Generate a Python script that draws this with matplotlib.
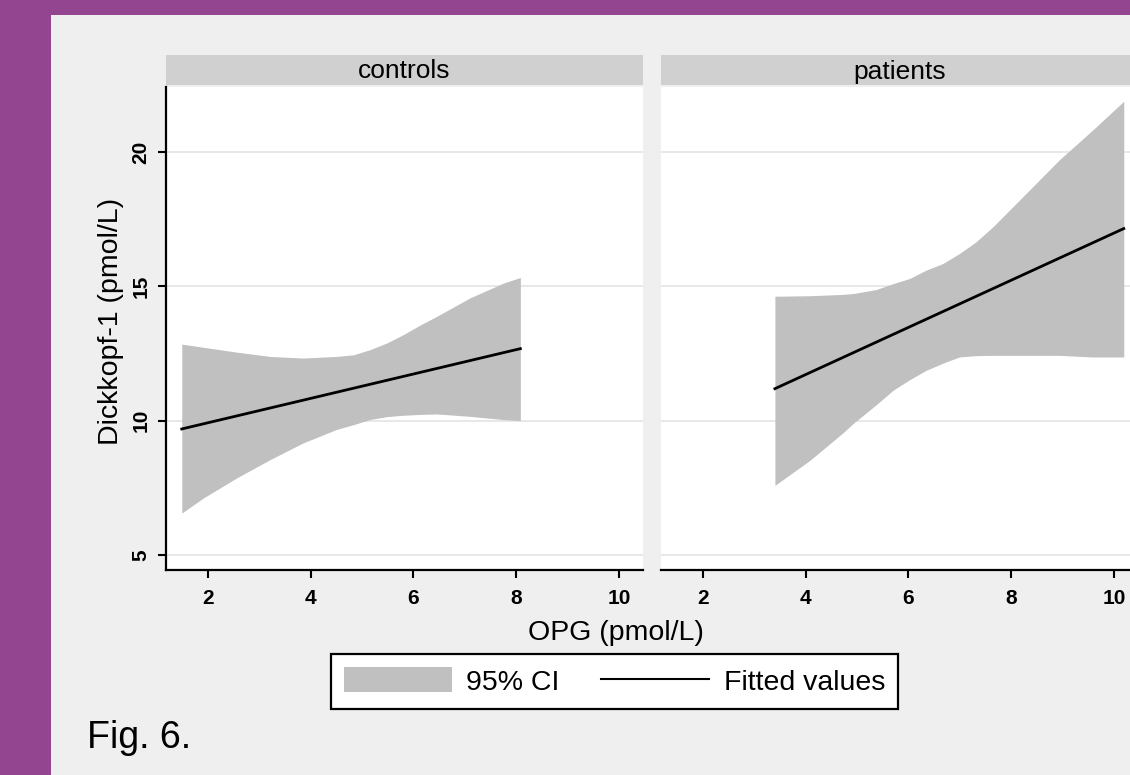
import matplotlib
matplotlib.use('Agg')
import matplotlib.pyplot as plt
from matplotlib.patches import Rectangle, Patch
from matplotlib.lines import Line2D

plt.rcParams['font.family'] = ['Liberation Sans', 'DejaVu Sans']

# ---------------- data ----------------
panels = ["controls", "patients"]

ctrl_x = [1.49, 1.91, 2.56, 3.21, 3.85, 4.50, 4.83, 5.15, 5.48, 5.80, 6.12, 6.45, 7.10, 7.75, 8.08]
ctrl_upper = [12.85, 12.73, 12.55, 12.39, 12.33, 12.39, 12.45, 12.64, 12.89, 13.20, 13.55, 13.88, 14.57, 15.12, 15.33]
ctrl_lower = [6.56, 7.12, 7.87, 8.55, 9.17, 9.67, 9.85, 10.04, 10.15, 10.20, 10.23, 10.25, 10.16, 10.04, 10.00]
ctrl_fit_x = [1.49, 8.08]
ctrl_fit_y = [9.69, 12.68]

pat_x = [3.40, 4.08, 4.72, 4.92, 5.37, 5.70, 6.02, 6.34, 6.67, 6.99, 7.31, 7.64, 8.29, 8.93, 9.58, 10.19]
pat_upper = [14.63, 14.65, 14.70, 14.73, 14.88, 15.10, 15.29, 15.60, 15.85, 16.22, 16.65, 17.21, 18.46, 19.70, 20.81, 21.89]
pat_lower = [7.59, 8.52, 9.54, 9.89, 10.59, 11.13, 11.52, 11.87, 12.14, 12.37, 12.42, 12.43, 12.43, 12.43, 12.37, 12.37]
pat_fit_x = [3.40, 10.19]
pat_fit_y = [11.19, 17.15]

x_ticks = [2, 4, 6, 8, 10]
y_ticks = [5, 10, 15, 20]

x_label = "OPG (pmol/L)"
y_label = "Dickkopf-1 (pmol/L)"
legend_labels = ["95% CI", "Fitted values"]
fig_caption = "Fig. 6."

# ---------------- styling ----------------
W, H = 1130, 775
PURPLE = '#93458f'
BG = '#efefef'
STRIP = '#d0d0d0'
CI = '#c0c0c0'
GRID = '#e6e6e6'

def fx(px):
    return px / W

def fy(py):
    return 1 - py / H

fig = plt.figure(figsize=(W / 100, H / 100), dpi=100, facecolor=PURPLE)
fig.patches.append(Rectangle((fx(51), 0), 1, fy(15), transform=fig.transFigure,
                             facecolor=BG, edgecolor='none', zorder=-10))

xlim = (1.183, 10.467)
ylim = (4.44, 22.42)

series = [
    (ctrl_x, ctrl_lower, ctrl_upper, ctrl_fit_x, ctrl_fit_y),
    (pat_x, pat_lower, pat_upper, pat_fit_x, pat_fit_y),
]
lefts = [166, 661]
pw = 477

for i, (name, s) in enumerate(zip(panels, series)):
    xs, lo, up, fxs, fys = s
    ax = fig.add_axes([fx(lefts[i]), fy(570), pw / W, 483 / H])
    ax.set_facecolor('white')
    ax.fill_between(xs, lo, up, color=CI, linewidth=0, zorder=2)
    ax.plot(fxs, fys, color='black', lw=2.0, zorder=3)
    ax.set_xlim(*xlim)
    ax.set_ylim(*ylim)
    ax.set_xticks(x_ticks)
    ax.set_yticks(y_ticks)
    ax.grid(axis='y', color=GRID, lw=1.3, zorder=1)
    ax.set_axisbelow(True)
    for sp in ['top', 'right']:
        ax.spines[sp].set_visible(False)
    ax.spines['bottom'].set_linewidth(1.6)
    ax.spines['left'].set_linewidth(1.6)
    ax.tick_params(axis='x', length=5.5, width=1.5, pad=8, labelsize=15)
    for lab in ax.get_xticklabels():
        lab.set_fontweight('bold')
    if i == 0:
        ax.tick_params(axis='y', length=6, width=1.5, pad=5, labelsize=15,
                       labelrotation=90)
        for lab in ax.get_yticklabels():
            lab.set_fontweight('bold')
            lab.set_va('center')
    else:
        ax.spines['left'].set_visible(False)
        ax.tick_params(axis='y', length=0, labelleft=False)

    # header strip
    hax = fig.add_axes([fx(lefts[i]), fy(85), pw / W, 30 / H])
    hax.set_facecolor(STRIP)
    hax.set_xticks([])
    hax.set_yticks([])
    for sp in hax.spines.values():
        sp.set_visible(False)
    hax.text(0.5, 0.45, name, ha='center', va='center', fontsize=19,
             transform=hax.transAxes)

fig.text(fx(615.5), fy(633), x_label, ha='center', va='center', fontsize=20.5)
fig.text(fx(111), fy(321), y_label, ha='center', va='center', fontsize=20.5,
         rotation=90)

handles = [Patch(facecolor=CI, edgecolor='none', label=legend_labels[0]),
           Line2D([], [], color='black', lw=1.5, label=legend_labels[1])]
leg = fig.legend(handles=handles, loc='center',
                 bbox_to_anchor=(fx(614.5), fy(681.5)), ncol=2, fontsize=20.5,
                 frameon=True, fancybox=False, edgecolor='black', framealpha=1,
                 handlelength=3.8, handleheight=0.95, handletextpad=0.5,
                 columnspacing=1.45, borderpad=0.47, borderaxespad=0)
leg.get_frame().set_linewidth(1.6)

fig.text(fx(87), fy(748), fig_caption, ha='left', va='baseline', fontsize=27)

fig.savefig('out.png', dpi=100, facecolor=PURPLE)
